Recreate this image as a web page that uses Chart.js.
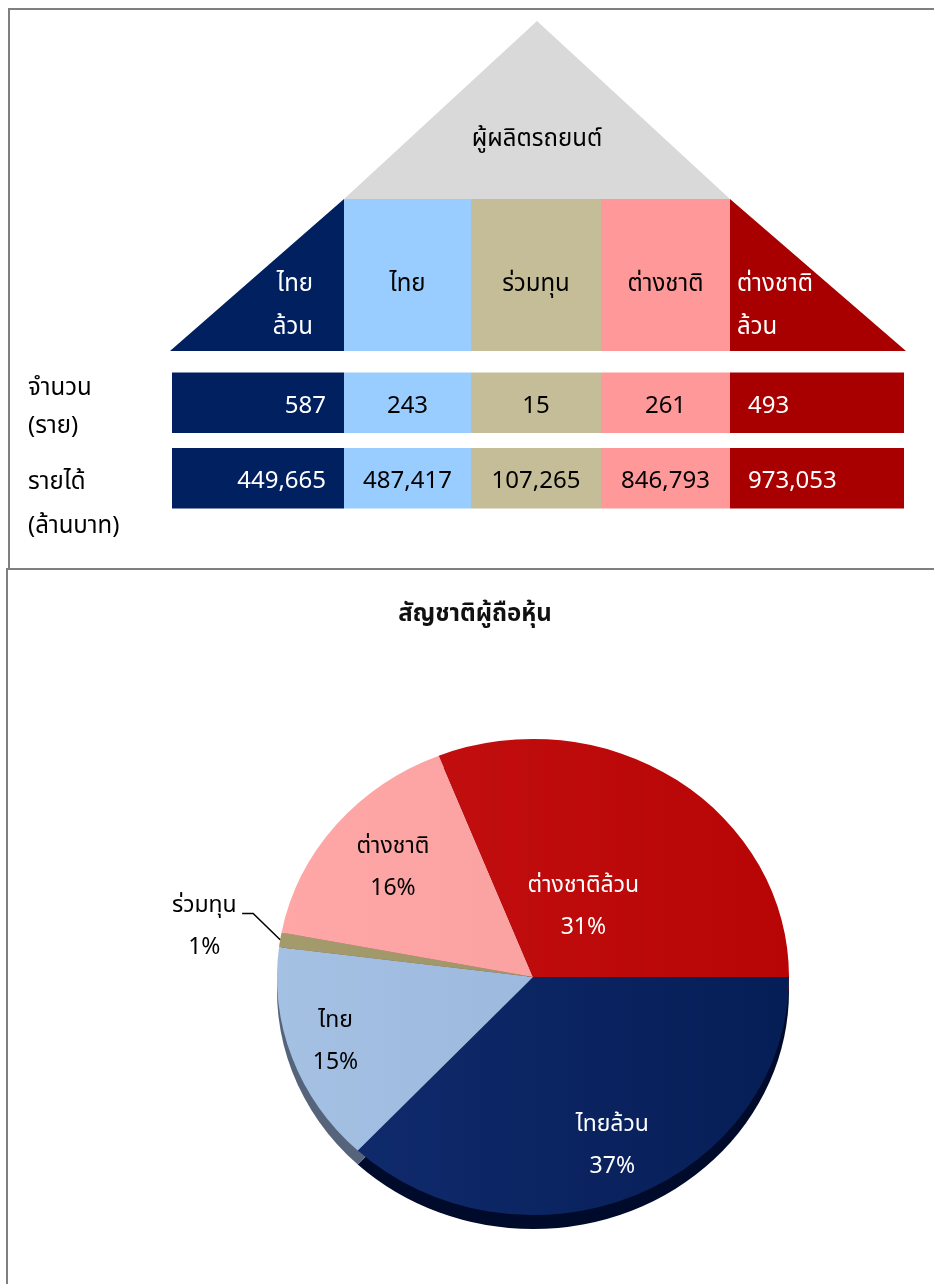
<!DOCTYPE html>
<html>
<head>
<meta charset="utf-8">
<script src="https://cdn.jsdelivr.net/npm/chart.js@4.4.0/dist/chart.umd.min.js"></script>
<style>
  body { margin: 0; background: #fff; width: 934px; height: 1284px; overflow: hidden; position: relative; }
  .frame { position: absolute; border-left: 2px solid #7f7f7f; border-top: 2px solid #7f7f7f; }
  #topFrame { left: 8px; top: 8px; width: 940px; height: 560px; }
  #pieFrame { left: 6px; top: 568px; width: 940px; height: 720px; }
  #topChart { position: absolute; left: 0; top: 0; }
  #pieChart { position: absolute; left: 0; top: 570px; }
</style>
</head>
<body>
<div class="frame" id="topFrame"></div>
<div class="frame" id="pieFrame"></div>
<canvas id="topChart" width="934" height="568"></canvas>
<canvas id="pieChart" width="934" height="714"></canvas>
<script>
// ---- data ----
const groups = ['ไทยล้วน', 'ไทย', 'ร่วมทุน', 'ต่างชาติ', 'ต่างชาติล้วน'];
const headerLines = [['ไทย', 'ล้วน'], ['ไทย'], ['ร่วมทุน'], ['ต่างชาติ'], ['ต่างชาติ', 'ล้วน']];
const roofTitle = 'ผู้ผลิตรถยนต์';
const rowNames = [['จำนวน', '(ราย)'], ['รายได้', '(ล้านบาท)']];
const companyCount = [587, 243, 15, 261, 493];
const revenueMB = [449665, 487417, 107265, 846793, 973053];

const pieTitle = 'สัญชาติผู้ถือหุ้น';
const pieShare = [37, 15, 1, 16, 31];

// ---- layout / style ----
const FONT = "'Noto Sans Thai', 'Noto Sans', 'DejaVu Sans', sans-serif";
Chart.defaults.font.family = FONT;

const colSpan = [172, 127, 130, 129, 174];   // widths of the table columns
const cellColors = ['#002060', '#99ccff', '#c4bd97', '#ff9999', '#a80000'];
const cellText = ['#fff', '#000', '#000', '#000', '#fff'];
const rowLabelShift = [-13, 6];
const rowLabelGap = [38, 44];

const pieColors = [['#112c70', '#061e56'], ['#a4c0e3', '#96b3d9'], ['#a39b6c', '#9a9264'], ['#ffa7a7', '#f69d9d'], ['#c61212', '#b70404']];
const sideColors = ['#000b2c', '#55647a', '#5a5535', '#8f5a5a', '#700000'];
const pieText = ['#fff', '#000', '#000', '#000', '#fff'];
const labelReach = [0.78, 0.82, 1.3, 0.71, 0.35];
const TILT = 0.93, DEPTH = 15;

// ---- top : house + table ----
const houseHeader = {
    id: 'houseHeader',
    afterDatasetsDraw(chart) {
        const ctx = chart.ctx;
        const bottom = chart.chartArea.top - 14, top = bottom - 152;
        const edges = groups.map((g, i) => {
            const el = chart.getDatasetMeta(i).data[0];
            return [Math.min(el.base, el.x), Math.max(el.base, el.x)];
        });
        const last = edges.length - 1;
        ctx.save();
        // roof
        const rl = edges[1][0], rr = edges[3][1];
        ctx.fillStyle = '#d9d9d9';
        ctx.beginPath();
        ctx.moveTo(rl, top);
        ctx.lineTo((rl + rr) / 2, top - 178);
        ctx.lineTo(rr, top);
        ctx.closePath();
        ctx.fill();
        // walls
        edges.forEach(([l, r], i) => {
            ctx.fillStyle = cellColors[i];
            ctx.beginPath();
            if (i === 0) { ctx.moveTo(l - 2, bottom); ctx.lineTo(r, top); ctx.lineTo(r, bottom); }
            else if (i === last) { ctx.moveTo(l, top); ctx.lineTo(r + 2, bottom); ctx.lineTo(l, bottom); }
            else ctx.rect(l, top, r - l, bottom - top);
            ctx.closePath();
            ctx.fill();
        });
        ctx.font = '24px ' + FONT;
        ctx.textBaseline = 'middle';
        ctx.fillStyle = '#000';
        ctx.textAlign = 'center';
        ctx.fillText(roofTitle, (rl + rr) / 2, top - 58);
        edges.forEach(([l, r], i) => {
            ctx.fillStyle = cellText[i];
            headerLines[i].forEach((txt, k) => {
                const y = top + 87 + k * 43;
                if (i === 0) { ctx.textAlign = 'right'; ctx.fillText(txt, r - 31, y); }
                else if (i === last) { ctx.textAlign = 'left'; ctx.fillText(txt, l + 7, y); }
                else { ctx.textAlign = 'center'; ctx.fillText(txt, (l + r) / 2, y); }
            });
        });
        // values in the cells
        const rows = [companyCount, revenueMB];
        rows.forEach((vals, r) => {
            groups.forEach((g, i) => {
                const el = chart.getDatasetMeta(i).data[r];
                const l = Math.min(el.base, el.x), rt = Math.max(el.base, el.x);
                const txt = vals[i].toLocaleString('en-US');
                ctx.fillStyle = cellText[i];
                if (i === 0) { ctx.textAlign = 'right'; ctx.fillText(txt, rt - 18, el.y + 5); }
                else if (i === last) { ctx.textAlign = 'left'; ctx.fillText(txt, l + 18, el.y + 5); }
                else { ctx.textAlign = 'center'; ctx.fillText(txt, (l + rt) / 2, el.y + 5); }
            });
            // row names
            const y0 = chart.getDatasetMeta(0).data[r].y + rowLabelShift[r];
            ctx.fillStyle = '#000';
            ctx.textAlign = 'left';
            rowNames[r].forEach((txt, k) => ctx.fillText(txt, 28, y0 + k * rowLabelGap[r]));
        });
        ctx.restore();
    }
};

new Chart(document.getElementById('topChart'), {
    type: 'bar',
    data: {
        labels: rowNames.map(n => n.join(' ')),
        datasets: groups.map((g, i) => ({
            label: g,
            data: [colSpan[i], colSpan[i]],
            backgroundColor: cellColors[i],
            borderWidth: 0,
            barPercentage: 0.8,
            categoryPercentage: 1
        }))
    },
    options: {
        indexAxis: 'y',
        responsive: false,
        animation: false,
        events: [],
        layout: { padding: { left: 172, right: 30, top: 365, bottom: 52 } },
        scales: {
            x: { stacked: true, display: false, min: 0, max: colSpan.reduce((a, b) => a + b, 0) },
            y: { stacked: true, display: false }
        },
        plugins: { legend: { display: false }, tooltip: { enabled: false } }
    },
    plugins: [houseHeader]
});

// ---- bottom : pie ----
const pieDepth = {
    id: 'pieDepth',
    beforeDatasetsDraw(chart) {
        const ctx = chart.ctx;
        const arcs = chart.getDatasetMeta(0).data;
        const cx = arcs[0].x, cy = arcs[0].y;
        ctx.save();
        ctx.translate(cx, cy);
        ctx.scale(1, TILT);
        ctx.translate(-cx, -cy);
        arcs.forEach((el, i) => {
            ctx.fillStyle = sideColors[i];
            ctx.beginPath();
            ctx.moveTo(el.x, el.y + DEPTH);
            ctx.arc(el.x, el.y + DEPTH, el.outerRadius, el.startAngle, el.endAngle);
            ctx.closePath();
            ctx.fill();
        });
    },
    afterDatasetsDraw(chart) {
        chart.ctx.restore();
    }
};

const pieLabels = {
    id: 'pieLabels',
    afterDraw(chart) {
        const ctx = chart.ctx;
        ctx.save();
        ctx.font = 'bold 24px ' + FONT;
        ctx.fillStyle = '#111';
        ctx.textAlign = 'center';
        ctx.textBaseline = 'middle';
        ctx.fillText(pieTitle, 475, 46);

        ctx.font = '23px ' + FONT;
        chart.getDatasetMeta(0).data.forEach((el, i) => {
            const mid = (el.startAngle + el.endAngle) / 2;
            const R = el.outerRadius;
            const x = el.x + Math.cos(mid) * R * labelReach[i];
            const y = el.y + Math.sin(mid) * R * labelReach[i] * TILT;
            ctx.fillStyle = pieText[i];
            ctx.fillText(groups[i], x, y - 21);
            ctx.fillText(pieShare[i] + '%', x, y + 21);
            if (labelReach[i] > 1) {
                const ex = el.x + Math.cos(mid) * R, ey = el.y + Math.sin(mid) * R * TILT;
                const bx = ex - 27, by = y - 21 + 6;
                ctx.strokeStyle = '#000';
                ctx.lineWidth = 1.5;
                ctx.beginPath();
                ctx.moveTo(ex, ey);
                ctx.lineTo(bx, by);
                ctx.lineTo(bx - 11, by);
                ctx.stroke();
            }
        });
        ctx.restore();
    }
};

new Chart(document.getElementById('pieChart'), {
    type: 'pie',
    data: {
        labels: groups,
        datasets: [{
            data: pieShare,
            backgroundColor: (c) => {
                const a = c.chart.chartArea;
                const pair = pieColors[c.dataIndex];
                if (!a) return pair[0];
                const g = c.chart.ctx.createLinearGradient(a.left, 0, a.right, 0);
                g.addColorStop(0, pair[0]);
                g.addColorStop(1, pair[1]);
                return g;
            },
            borderWidth: 0,
            hoverOffset: 0,
            offset: 0
        }]
    },
    options: {
        responsive: false,
        animation: false,
        events: [],
        rotation: 90,
        layout: { padding: { left: 277, right: 145, top: 150, bottom: 50 } },
        plugins: { legend: { display: false }, tooltip: { enabled: false }, title: { display: false } }
    },
    plugins: [pieDepth, pieLabels]
});
</script>
</body>
</html>
